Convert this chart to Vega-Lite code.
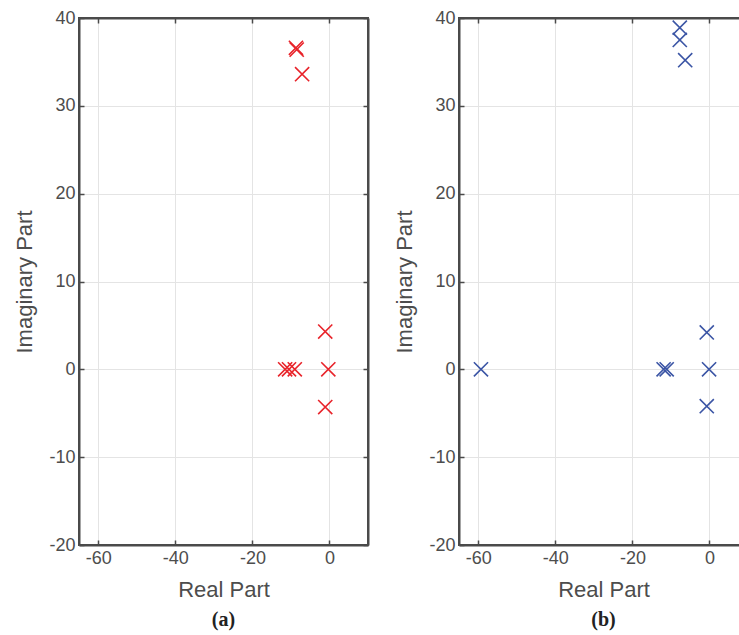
{
  "$schema": "https://vega.github.io/schema/vega-lite/v6.json",
  "background": "white",
  "padding": {"left": 12, "top": 8, "right": 0, "bottom": 0},
  "config": {
    "view": {"stroke": "#4a4a4a", "strokeWidth": 2},
    "axis": {
      "labelFont": "Liberation Sans", "labelFontSize": 18, "labelColor": "#4d4d4d",
      "labelExpr": "toString(datum.value)",
      "titleFont": "Liberation Sans", "titleFontSize": 22, "titleFontWeight": "normal", "titleColor": "#4d4d4d",
      "domainColor": "#4a4a4a", "domainWidth": 2,
      "tickColor": "#4a4a4a", "tickSize": -5, "tickWidth": 1.5,
      "gridColor": "#e4e4e4", "gridWidth": 1, "labelPadding": 9
    },
    "concat": {"spacing": 22},
    "title": {"font": "Liberation Serif", "fontSize": 20, "fontWeight": "bold", "color": "#222222"}
  },
  "datasets": {
    "a": [
      {"re": -8.7, "im": 36.6}, {"re": -8.5, "im": 36.4}, {"re": -7.1, "im": 33.6},
      {"re": -1.1, "im": 4.3}, {"re": -0.3, "im": 0}, {"re": -1.1, "im": -4.3},
      {"re": -11.5, "im": 0}, {"re": -10.5, "im": 0}, {"re": -9.0, "im": 0}
    ],
    "b": [
      {"re": -7.7, "im": 38.9}, {"re": -7.7, "im": 37.5}, {"re": -6.3, "im": 35.2},
      {"re": -59.3, "im": 0}, {"re": -11.9, "im": 0}, {"re": -11.1, "im": 0},
      {"re": -0.7, "im": 4.2}, {"re": -0.1, "im": 0}, {"re": -0.7, "im": -4.2}
    ]
  },
  "hconcat": [
    {
      "width": 289, "height": 527,
      "title": {"text": "(a)", "orient": "bottom", "offset": 10},
      "data": {"name": "a"},
      "layer": [
        {
          "mark": {"type": "point", "shape": "M-1,-1L1,1M-1,1L1,-1", "size": 200, "filled": false, "strokeWidth": 1.6, "color": "#e8242b", "opacity": 1},
          "encoding": {
            "x": {"field": "re", "type": "quantitative", "scale": {"domain": [-65, 10], "nice": false, "zero": false},
                  "axis": {"values": [-60, -40, -20, 0], "title": "Real Part", "titlePadding": 12}},
            "y": {"field": "im", "type": "quantitative", "scale": {"domain": [-20, 40], "nice": false, "zero": false},
                  "axis": {"values": [-20, -10, 0, 10, 20, 30, 40], "title": "Imaginary Part", "titlePadding": 12}}
          }
        },
        {
          "mark": {"type": "point", "opacity": 0},
          "encoding": {
            "x": {"field": "re", "type": "quantitative", "scale": {"domain": [-65, 10], "nice": false, "zero": false},
                  "axis": {"orient": "top", "values": [-60, -40, -20, 0], "labels": false, "grid": false, "title": null}},
            "y": {"field": "im", "type": "quantitative", "scale": {"domain": [-20, 40], "nice": false, "zero": false},
                  "axis": {"orient": "right", "values": [-20, -10, 0, 10, 20, 30, 40], "labels": false, "grid": false, "title": null}}
          }
        }
      ],
      "resolve": {"scale": {"x": "independent", "y": "independent"}}
    },
    {
      "width": 289, "height": 527,
      "title": {"text": "(b)", "orient": "bottom", "offset": 10},
      "data": {"name": "b"},
      "layer": [
        {
          "mark": {"type": "point", "shape": "M-1,-1L1,1M-1,1L1,-1", "size": 200, "filled": false, "strokeWidth": 1.6, "color": "#3b55a5", "opacity": 1},
          "encoding": {
            "x": {"field": "re", "type": "quantitative", "scale": {"domain": [-65, 10], "nice": false, "zero": false},
                  "axis": {"values": [-60, -40, -20, 0], "title": "Real Part", "titlePadding": 12}},
            "y": {"field": "im", "type": "quantitative", "scale": {"domain": [-20, 40], "nice": false, "zero": false},
                  "axis": {"values": [-20, -10, 0, 10, 20, 30, 40], "title": "Imaginary Part", "titlePadding": 12}}
          }
        },
        {
          "mark": {"type": "point", "opacity": 0},
          "encoding": {
            "x": {"field": "re", "type": "quantitative", "scale": {"domain": [-65, 10], "nice": false, "zero": false},
                  "axis": {"orient": "top", "values": [-60, -40, -20, 0], "labels": false, "grid": false, "title": null}},
            "y": {"field": "im", "type": "quantitative", "scale": {"domain": [-20, 40], "nice": false, "zero": false},
                  "axis": {"orient": "right", "values": [-20, -10, 0, 10, 20, 30, 40], "labels": false, "grid": false, "title": null}}
          }
        }
      ],
      "resolve": {"scale": {"x": "independent", "y": "independent"}}
    }
  ]
}
